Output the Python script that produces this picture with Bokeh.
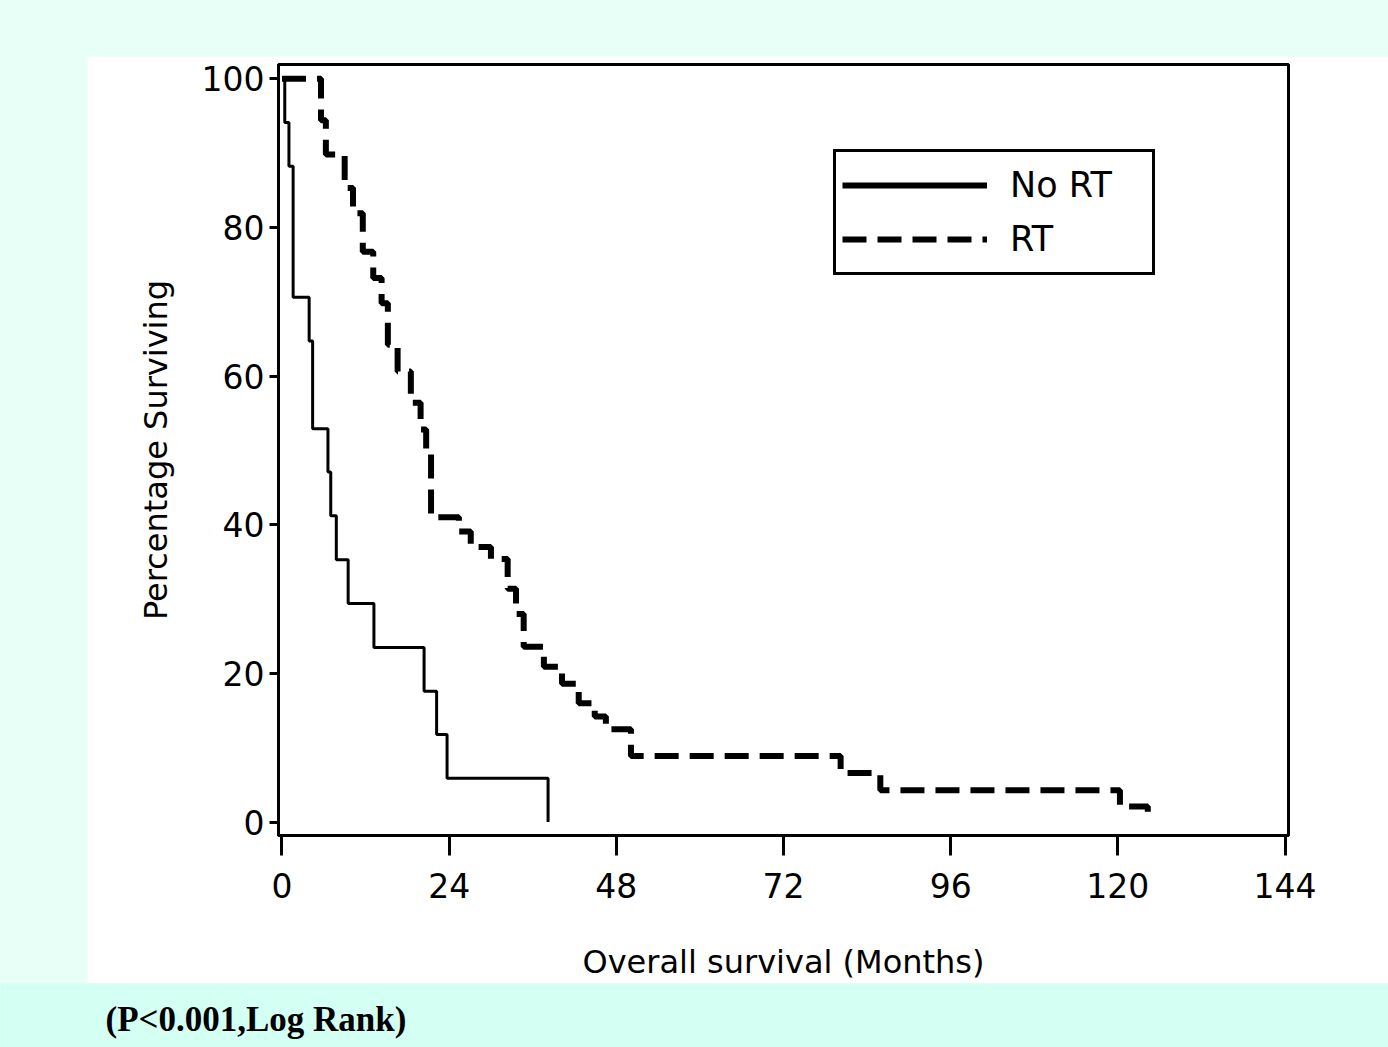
from bokeh.plotting import figure
from bokeh.models import Spacer, Legend, LegendItem, Label, FixedTicker
from bokeh.layouts import column, row
from bokeh.embed import file_html
from bokeh.resources import INLINE

# ---- data ----
no_rt_time = [0, 0.4, 1.0, 1.6, 3.9, 4.4, 6.6, 7.0, 7.8, 9.5, 13.2, 20.4, 22.2, 23.7, 38.2]
no_rt_surv = [100, 94.1, 88.2, 70.6, 64.7, 52.9, 47.1, 41.2, 35.3, 29.4, 23.5, 17.6, 11.8, 5.9, 0]

rt_time = [0, 5.6, 6.3, 9.0, 10.2, 11.6, 13.1, 14.3, 15.2, 16.6,
           18.5, 19.9, 20.7, 21.4, 25.4, 27.1, 30.0, 32.4, 33.6, 34.7,
           37.6, 40.2, 42.6, 44.9, 46.5, 50.1, 80.2, 85.9, 120.3, 124.3]
rt_surv = [100, 94.4, 89.8, 85.3, 81.9, 76.7, 73.2, 69.8, 64.2, 60.6,
           56.4, 52.8, 49.5, 41.0, 39.1, 37.0, 35.4, 31.4, 28.0, 23.6,
           20.9, 18.6, 16.0, 14.2, 12.5, 8.9, 6.6, 4.3, 2.1, 1.1]

x_ticks = [0, 24, 48, 72, 96, 120, 144]
y_ticks = [0, 20, 40, 60, 80, 100]
series_labels = ["No RT", "RT"]
x_label = "Overall survival (Months)"
y_label = "Percentage Surviving"
note_text = "(P<0.001,Log Rank)"

TOP_BG = "#E8FFF7"
BOTTOM_BG = "#D4FFF3"
FONT = "DejaVu Sans"

p = figure(width=1301, height=927, x_range=(-0.5, 144.5), y_range=(-1.8, 101.9),
           output_backend="svg", toolbar_location=None,
           min_border_left=191, min_border_right=100, min_border_top=8, min_border_bottom=145)
p.background_fill_color = "white"
p.border_fill_color = "white"
p.grid.visible = False
p.outline_line_color = "black"
p.outline_line_width = 3
p.outline_line_alpha = 1

for ax in (p.xaxis, p.yaxis):
    ax.axis_line_width = 3
    ax.axis_line_color = "black"
    ax.major_tick_line_width = 3
    ax.major_tick_line_color = "black"
    ax.major_tick_in = 0
    ax.minor_tick_out = 0
    ax.minor_tick_in = 0
    ax.major_label_text_font = FONT
    ax.major_label_text_font_size = "33px"
    ax.major_label_text_color = "black"
    ax.axis_label_text_font = FONT
    ax.axis_label_text_font_size = "32px"
    ax.axis_label_text_font_style = "normal"
    ax.axis_label_text_color = "black"

p.xaxis.ticker = FixedTicker(ticks=x_ticks)
p.yaxis.ticker = FixedTicker(ticks=y_ticks)
p.xaxis.major_tick_out = 20
p.yaxis.major_tick_out = 9
p.xaxis.major_label_standoff = 17
p.yaxis.major_label_standoff = 5
p.xaxis.axis_label = x_label
p.yaxis.axis_label = y_label
p.xaxis.axis_label_standoff = 42
p.yaxis.axis_label_standoff = 24

r_no = p.step(no_rt_time, no_rt_surv, mode="after", line_color="black", line_width=3)
r_rt = p.step(rt_time, rt_surv, mode="after", line_color="black", line_width=6,
              line_dash="24 11")
# legend-only renderer (draws nothing) with the thicker solid stroke of the legend key
leg_no = p.line([float("nan")], [float("nan")], line_color="black", line_width=6)

legend = Legend(items=[LegendItem(label=series_labels[0], renderers=[leg_no]),
                       LegendItem(label=series_labels[1], renderers=[r_rt])],
                location=(555, 560), margin=0, padding=6, spacing=0,
                glyph_width=145, glyph_height=54, label_height=54, label_width=136,
                label_standoff=23,
                label_text_font=FONT, label_text_font_size="35px",
                label_text_color="black",
                border_line_color="black", border_line_width=3, border_line_alpha=1,
                background_fill_color="white", background_fill_alpha=1)
p.add_layout(legend)

bottom = figure(width=1388, height=64, output_backend="svg", toolbar_location=None,
                min_border=0, x_range=(0, 1), y_range=(0, 1),
                x_axis_type=None, y_axis_type=None)
bottom.grid.visible = False
bottom.outline_line_color = None
bottom.background_fill_color = BOTTOM_BG
bottom.border_fill_color = BOTTOM_BG
bottom.add_layout(Label(x=105, y=28, x_units="screen", y_units="screen", text=note_text,
                        text_font="Liberation Serif", text_font_style="bold",
                        text_font_size="35px", text_color="black",
                        text_baseline="alphabetic"))

top_sp = Spacer(width=1388, height=56, styles={"background-color": TOP_BG})
left_sp = Spacer(width=87, height=927, styles={"background-color": TOP_BG})
layout = column(top_sp, row(left_sp, p, styles={"background-color": TOP_BG}), bottom,
                styles={"background-color": TOP_BG})

html = file_html(layout, INLINE)
html = html.replace("<body>", '<body style="background-color:%s">' % TOP_BG, 1)
open("out.html", "w").write(html)
